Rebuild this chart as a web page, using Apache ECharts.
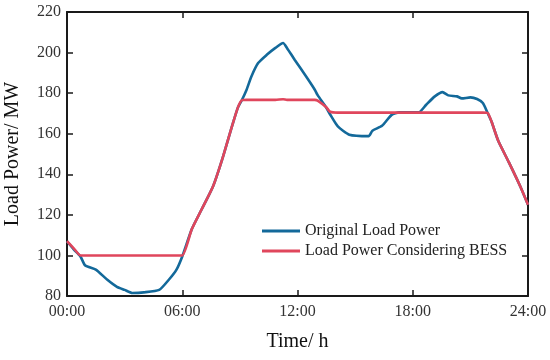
<!DOCTYPE html>
<html>
<head>
<meta charset="utf-8">
<script src="https://cdn.jsdelivr.net/npm/echarts@6/dist/echarts.min.js"></script>
<style>html,body{margin:0;padding:0;background:#fff}#c{width:550px;height:360px}</style>
</head>
<body>
<div id="c"></div>
<script>
// Time in hours
const hours = [0, 0.35, 0.7, 0.95, 1.5, 2.1, 2.6, 3.0, 3.4, 4.0, 4.8, 5.3, 5.7, 6.0,
  6.5, 7.0, 7.6, 8.1, 8.6, 8.9, 9.1, 9.35, 9.6, 9.95, 10.4, 10.85, 11.25, 11.45, 11.85,
  12.45, 12.9, 13.05, 13.5, 13.7, 14.1, 14.7, 15.7, 15.9, 16.4, 16.9, 17.3, 18.3, 18.7,
  19.15, 19.55, 19.85, 20.3, 20.55, 21.0, 21.35, 21.65, 21.9, 22.1, 22.45, 23.0, 23.6, 24];
const originalLoad = [107, 103, 99.5, 95, 93, 88, 84.5, 83, 81.5, 81.8, 83, 88, 93, 99.5,
  113, 122.5, 134, 148, 164, 173, 176.5, 181.7, 188.2, 194.8, 198.9, 202.3, 204.7, 202.3, 196.5,
  188.2, 181.7, 179, 172.8, 169.5, 163.6, 159.5, 158.8, 161.5, 163.9, 169.3, 170.5, 170.5, 174.3,
  178.4, 180.5, 178.9, 178.4, 177.4, 177.9, 177.1, 175.1, 170.2, 166, 156.5, 146, 134, 125];
const bessLoad = [107, 103.5, 100, 100, 100, 100, 100, 100, 100, 100, 100, 100, 100, 100,
  113, 122.5, 134, 148, 164, 173, 176.5, 176.7, 176.7, 176.7, 176.7, 176.7, 177, 176.7, 176.7,
  176.7, 176.7, 176.3, 173, 170.8, 170.4, 170.4, 170.4, 170.4, 170.4, 170.4, 170.4, 170.4, 170.4,
  170.4, 170.4, 170.4, 170.4, 170.4, 170.4, 170.4, 170.4, 170.2, 166, 156.5, 146, 134, 125];
const xTicks = ['00:00', '06:00', '12:00', '18:00', '24:00'];
const seriesNames = ['Original Load Power', 'Load Power Considering BESS'];

const font = 'Liberation Serif';
const pairs = arr => hours.map((h, i) => [h, arr[i]]);
const axisLineStyle = { color: '#1a1a1a', width: 2 };
const tick = { show: true, inside: true, length: 6, lineStyle: { color: '#1a1a1a', width: 1.5 } };

const chart = echarts.init(document.getElementById('c'), null, { renderer: 'canvas' });
chart.setOption({
  animation: false,
  backgroundColor: '#fff',
  grid: { left: 67, right: 22, top: 12, bottom: 64, containLabel: false, outerBoundsMode: 'none' },
  legend: {
    orient: 'vertical', left: 257, top: 218, itemWidth: 38, itemHeight: 3, itemGap: 4,
    icon: 'rect',
    data: seriesNames,
    textStyle: { fontFamily: font, fontSize: 16, color: '#222' }
  },
  xAxis: [{
    type: 'value', min: 0, max: 24, interval: 6,
    name: 'Time/ h', nameLocation: 'middle', nameGap: 36,
    nameTextStyle: { fontFamily: font, fontSize: 20, color: '#111' },
    axisLine: { show: true, onZero: false, lineStyle: axisLineStyle },
    axisTick: tick,
    axisLabel: { fontFamily: font, fontSize: 16, color: '#333', margin: 8,
      formatter: v => xTicks[v / 6] },
    splitLine: { show: false }
  }, {
    type: 'value', position: 'top', min: 0, max: 24, interval: 6,
    axisLine: { show: true, onZero: false, lineStyle: axisLineStyle },
    axisTick: tick,
    axisLabel: { show: false }, splitLine: { show: false }
  }],
  yAxis: [{
    type: 'value', min: 80, max: 220, interval: 20,
    name: 'Load Power/ MW', nameLocation: 'middle', nameGap: 44,
    nameTextStyle: { fontFamily: font, fontSize: 20, color: '#111' },
    axisLine: { show: true, onZero: false, lineStyle: axisLineStyle },
    axisTick: tick,
    axisLabel: { fontFamily: font, fontSize: 16, color: '#333', margin: 6 },
    splitLine: { show: false }
  }, {
    type: 'value', position: 'right', min: 80, max: 220, interval: 20,
    axisLine: { show: true, onZero: false, lineStyle: axisLineStyle },
    axisTick: tick,
    axisLabel: { show: false }, splitLine: { show: false }
  }],
  series: [{
    name: seriesNames[0], type: 'line', data: pairs(originalLoad),
    symbol: 'none', smooth: 0.2, z: 2,
    lineStyle: { color: '#13699a', width: 2.6 }, itemStyle: { color: '#13699a' }
  }, {
    name: seriesNames[1], type: 'line', data: pairs(bessLoad),
    symbol: 'none', smooth: 0.2, z: 3,
    lineStyle: { color: '#e0465c', width: 2.6 }, itemStyle: { color: '#e0465c' }
  }]
});
</script>
</body>
</html>
